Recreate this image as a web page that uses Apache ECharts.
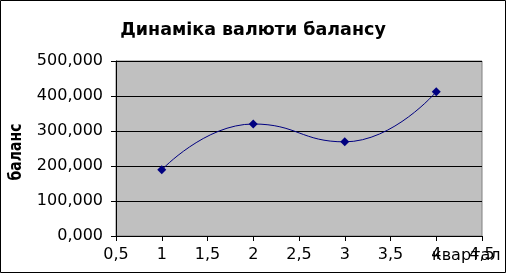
<!DOCTYPE html>
<html><head><meta charset="utf-8">
<script src="https://cdn.jsdelivr.net/npm/echarts@6/dist/echarts.min.js"></script>
<style>html,body{margin:0;padding:0;background:#fff}#c{width:506px;height:273px}</style>
</head><body><div id="c"></div>
<script>
const titleText = 'Динаміка валюти балансу';
const yName = 'баланс';
const xName = 'квартал';
const quarters = [1, 2, 3, 4];
const balance = [189, 320, 269, 412];
const xMin = 0.5, xMax = 4.5, xStep = 0.5;
const yMin = 0, yMax = 500, yStep = 100;

const fmtX = v => String(v).replace('.', ',');
const fmtY = v => v.toFixed(3).replace('.', ',');

const chart = echarts.init(document.getElementById('c'), null, {renderer: 'canvas'});
chart.setOption({
  animation: false,
  backgroundColor: '#fff',
  textStyle: {fontFamily: 'DejaVu Sans'},
  title: {
    text: titleText, left: 'center', top: 16,
    textStyle: {fontFamily: 'DejaVu Sans', fontWeight: 'bold', fontSize: 17.5, color: '#000'}
  },
  grid: {
    left: 116, right: 24, top: 61, bottom: 37, show: true,
    containLabel: false, outerBoundsMode: 'none',
    backgroundColor: '#c0c0c0', borderColor: '#808080', borderWidth: 1
  },
  xAxis: {
    type: 'value', min: xMin, max: xMax, interval: xStep,
    axisLine: {show: true, lineStyle: {color: '#000', width: 1}},
    axisTick: {show: true, length: 5, lineStyle: {color: '#000'}},
    axisLabel: {formatter: fmtX, fontSize: 16, color: '#000', margin: 11, fontFamily: 'DejaVu Sans'},
    splitLine: {show: false}
  },
  yAxis: {
    type: 'value', min: yMin, max: yMax, interval: yStep,
    axisLine: {show: true, lineStyle: {color: '#000', width: 1}},
    axisTick: {show: true, length: 5, lineStyle: {color: '#000'}},
    axisLabel: {formatter: fmtY, fontSize: 16, color: '#000', margin: 13, fontFamily: 'DejaVu Sans'},
    splitLine: {show: true, lineStyle: {color: '#000', width: 1}}
  },
  series: [{
    type: 'line', smooth: 0.5,
    data: quarters.map((q, i) => [q, balance[i]]),
    symbol: 'diamond', symbolSize: 9,
    lineStyle: {color: '#000080', width: 1},
    itemStyle: {color: '#000080'}
  }],
  graphic: [{
    type: 'rect', silent: true, z: 100,
    shape: {x: 0.5, y: 0.5, width: 505, height: 272},
    style: {fill: 'none', stroke: '#000', lineWidth: 1}
  }, {
    type: 'text', silent: true, z: 100,
    x: 432, y: 256,
    style: {text: xName, fontFamily: 'DejaVu Sans', fontSize: 16, fill: '#000', align: 'left', verticalAlign: 'middle'}
  }, {
    type: 'text', silent: true, z: 100,
    x: 16, y: 152, rotation: Math.PI / 2, scaleY: 1.3,
    style: {text: yName, fontFamily: 'DejaVu Sans', fontSize: 14, fontWeight: 'bold', fill: '#000', align: 'center', verticalAlign: 'middle'}
  }]
});
</script></body></html>
